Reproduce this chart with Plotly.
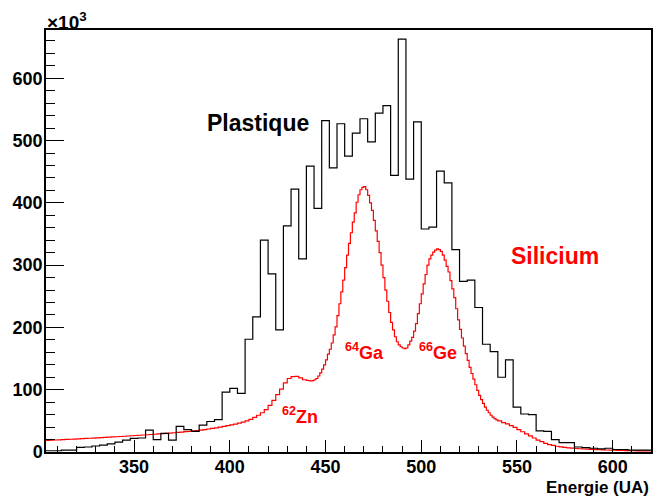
import plotly.graph_objects as go

# ---------------- data ----------------
# Plastique: bin width 4, left edges 304..616, values in units of 10^3
plast_edges = list(range(304, 620, 4))
plast_vals = [2, 2, 3, 3, 7.5, 8, 9.6, 11, 13, 16, 19, 22, 22.5, 35, 20, 30, 19, 41, 36, 33,
              43, 49, 52, 96, 102, 94, 181, 217, 340, 286, 196, 363, 422, 310, 459, 391, 532, 456,
              527, 475, 512, 535, 498, 544, 556, 444, 663, 438, 530, 358, 361, 451, 432, 325, 274,
              276, 232, 173, 161, 120, 148, 72, 61, 60, 34, 33, 20, 15, 15, 8, 7, 6, 5, 6, 4, 4,
              3, 3, 3]

# Silicium: left edges of bins (finer in the peak region), values in units of 10^3
sil_edges = (list(range(304, 440, 2)) + list(range(440, 540, 1)) + list(range(540, 620, 2)))
sil_vals = [
    # 304 .. 438 (step 2)
    18.7, 19.0, 19.3, 19.6, 19.9, 20.2, 20.5, 20.8, 21.1, 21.4, 21.8, 22.1, 22.4, 22.8, 23.1,
    23.5, 23.8, 24.2, 24.5, 24.9, 25.3, 25.7, 26.1, 26.5, 26.9, 27.3, 27.7, 28.1, 28.5, 29.0,
    29.4, 29.9, 30.4, 30.9, 31.5, 32.0, 32.6, 33.2, 33.8, 34.5, 35.2, 36.0, 36.9, 37.8, 38.8,
    39.9, 41.0, 42.2, 43.5, 44.9, 46.4, 48.0, 50.0, 52.5, 55.5, 59, 63, 68, 75, 83, 92, 101,
    111, 118, 121, 121.5, 119, 116,
    # 440 .. 539 (step 1)
    115, 114.5, 114, 114.5, 116, 118, 122, 127, 133, 140, 148, 157, 165, 175, 188, 201, 219,
    238, 257, 276, 296, 316, 335, 352, 369, 384, 401, 413, 421, 425, 426, 421, 412, 400, 388,
    372, 355, 338, 320, 300, 280, 260, 242, 224, 208, 196, 185, 177, 172, 169, 167, 166, 167,
    172, 178, 184, 194, 206, 222, 238, 254, 270, 285, 300, 310, 316, 321, 324, 326, 325, 322,
    316, 308, 298, 289, 275, 262, 248, 230, 212, 197, 183, 170, 158, 147, 136, 126, 117, 108,
    99, 91, 84, 78, 72, 67, 63, 59, 56, 53.5, 51.5,
    # 540 .. 618 (step 2)
    50, 47, 45, 42.5, 39.5, 36, 32.5, 29, 26, 22.5, 19, 16.5, 14, 12, 10.5, 9.2, 8.2, 7.4,
    6.7, 6.1, 5.6, 5.2, 4.8, 4.5, 4.2, 3.9, 3.6, 3.4, 3.2, 3.0, 2.8, 2.6, 2.5, 2.3, 2.2,
    2.0, 1.9, 1.8, 1.7, 1.6]

x_min, x_max = 304, 620
y_max = 677.5
x_tickvals = [350, 400, 450, 500, 550, 600]
y_tickvals = [0, 100, 200, 300, 400, 500, 600]

FONT = "Liberation Sans, Arial, Helvetica, sans-serif"

fig = go.Figure()

fig.add_trace(go.Scatter(
    x=sil_edges + [x_max], y=sil_vals + [sil_vals[-1]],
    mode="lines", line=dict(color="#ff0000", width=1.2, shape="hv"),
    showlegend=False, hoverinfo="skip"))

fig.add_trace(go.Scatter(
    x=plast_edges + [x_max], y=plast_vals + [plast_vals[-1]],
    mode="lines", line=dict(color="#000000", width=1.2, shape="hv"),
    showlegend=False, hoverinfo="skip"))

fig.update_layout(
    width=656, height=497,
    margin=dict(l=46, r=5, t=30, b=45),
    paper_bgcolor="white", plot_bgcolor="white",
    font=dict(family=FONT, size=17, color="black", weight="bold"),
    xaxis=dict(range=[x_min, x_max], tickmode="array", tickvals=x_tickvals,
               ticks="inside", ticklen=12, tickwidth=1, tickcolor="black",
               minor=dict(tickmode="linear", tick0=0, dtick=10, ticks="inside",
                          ticklen=6, tickcolor="black"),
               showline=True, linecolor="black", linewidth=2, mirror=True,
               showgrid=False, zeroline=False, automargin=False,
               tickfont=dict(family=FONT, size=18, weight="bold"),
               ticklabelstandoff=-3),
    yaxis=dict(range=[0, y_max], tickmode="array", tickvals=y_tickvals,
               ticks="inside", ticklen=18, tickwidth=1, tickcolor="black",
               minor=dict(tickmode="linear", tick0=0, dtick=20, ticks="inside",
                          ticklen=9, tickcolor="black"),
               showline=True, linecolor="black", linewidth=1.5, mirror=True,
               showgrid=False, zeroline=False, automargin=False,
               tickfont=dict(family=FONT, size=18, weight="bold"),
               ticklabelstandoff=-2),
)

annots = [
    dict(text="×10<sup>3</sup>", xref="paper", yref="paper", x=-0.002, y=0.988,
         xanchor="left", yanchor="bottom", font=dict(size=19)),
    dict(text="Energie (UA)", xref="paper", yref="paper", x=1.0, y=-0.083,
         xanchor="right", yanchor="middle", font=dict(size=17)),
    dict(text="Plastique", x=414.6, y=529, xanchor="center", yanchor="middle",
         font=dict(size=23, color="black")),
    dict(text="Silicium", x=569.8, y=314, xanchor="center", yanchor="middle",
         font=dict(size=23, color="#ff0000")),
    dict(text="<sup>62</sup>Zn", x=426.1, y=58, xanchor="left", yanchor="middle",
         font=dict(size=18, color="#ff0000")),
    dict(text="<sup>64</sup>Ga", x=459.0, y=161, xanchor="left", yanchor="middle",
         font=dict(size=18, color="#ff0000")),
    dict(text="<sup>66</sup>Ge", x=498.0, y=161, xanchor="left", yanchor="middle",
         font=dict(size=18, color="#ff0000")),
]
for a in annots:
    a.setdefault("showarrow", False)
    a["font"] = {**dict(family=FONT, weight="bold"), **a["font"]}
    fig.add_annotation(**a)

fig.write_html("out.html", config={"displayModeBar": False},
               post_script="document.body.style.margin='0';document.body.style.padding='0';")
